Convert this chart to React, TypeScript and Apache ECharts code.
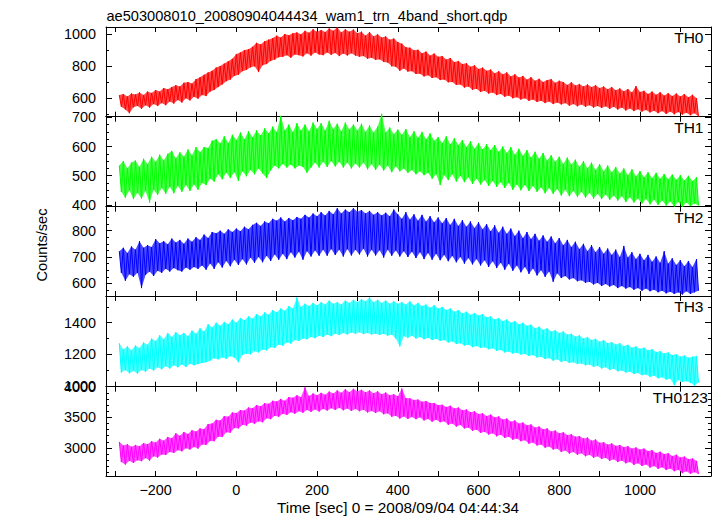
import React, { useEffect, useRef } from "react";
import * as echarts from "echarts";

const TITLE = "ae503008010_20080904044434_wam1_trn_4band_short.qdp";
const X_TITLE = "Time [sec] 0 = 2008/09/04 04:44:34";
const Y_TITLE = "Counts/sec";

// time grid of the binned light curves (seconds)
const T_START = -290;
const T_STEP = 10;

const X_MIN = -323;
const X_MAX = 1176;
const X_TICKS = [-300, -200, -100, 0, 100, 200, 300, 400, 500, 600, 700, 800, 900, 1000, 1100];
const X_LABELS = [-200, 0, 200, 400, 600, 800, 1000];

const PANEL_NAMES = ["TH0", "TH1", "TH2", "TH3", "TH0123"];
const COLORS = ["#ff0000", "#00ff00", "#0000ff", "#00ffff", "#ff00ff"];
const Y_RANGES = [[483, 1044], [394, 702], [552, 891], [995, 1569], [2543, 4000]];
const Y_MAJOR = [[600, 800, 1000], [400, 500, 600, 700], [600, 700, 800], [1000, 1200, 1400], [3000, 3500, 4000]];
const Y_MINOR = [
  [500, 700, 900],
  [425, 450, 475, 525, 550, 575, 625, 650, 675],
  [575, 625, 650, 675, 725, 750, 775, 825, 850, 875],
  [1100, 1300, 1500],
  [2600, 2700, 2800, 2900, 3100, 3200, 3300, 3400, 3600, 3700, 3800, 3900],
];

// upper / lower envelope of each 10 s bin
const th0Hi = [
  618, 625, 610, 628, 622, 635, 618, 640, 632, 650,
  640, 662, 655, 668, 680, 672, 695, 700, 690, 718,
  730, 745, 760, 770, 790, 800, 815, 830, 845, 875,
  885, 900, 905, 920, 945, 935, 955, 965, 975, 990,
  978, 1000, 992, 1005, 1010, 998, 1020, 1008, 1030, 1015,
  1025, 1012, 1035, 1020, 1042, 1010, 1030, 1015, 1028, 1005,
  1015, 990, 1012, 985, 998, 978, 985, 965, 972, 950,
  940, 918, 915, 898, 902, 880, 890, 865, 878, 858,
  862, 840, 850, 825, 832, 812, 818, 795, 805, 782,
  790, 770, 778, 755, 768, 748, 760, 735, 748, 728,
  738, 715, 730, 708, 720, 700, 712, 718, 695, 708,
  700, 682, 698, 678, 688, 672, 685, 668, 680, 662,
  672, 655, 668, 648, 660, 642, 656, 635, 675, 638,
  645, 625, 640, 620, 636, 615, 630, 612, 628, 610,
  625, 605, 620, 600,
];
const th0Lo = [
  545, 528, 505, 542, 550, 532, 555, 540, 562, 550,
  568, 555, 578, 565, 588, 572, 598, 585, 608, 596,
  618, 612, 640, 650, 668, 685, 705, 715, 738, 745,
  768, 775, 792, 798, 762, 805, 812, 832, 840, 855,
  858, 868, 852, 872, 868, 860, 880, 865, 885, 872,
  868, 885, 870, 882, 862, 878, 866, 880, 865, 858,
  862, 845, 852, 838, 842, 825, 822, 798, 795, 770,
  785, 765, 768, 750, 752, 735, 742, 725, 730, 712,
  715, 698, 700, 682, 685, 665, 672, 652, 658, 638,
  645, 628, 635, 618, 625, 608, 615, 598, 605, 590,
  598, 582, 590, 575, 582, 568, 578, 562, 572, 560,
  568, 552, 562, 548, 560, 545, 555, 540, 550, 538,
  548, 532, 545, 528, 540, 522, 535, 518, 530, 515,
  525, 510, 520, 505, 518, 500, 515, 498, 512, 496,
  508, 492, 505, 485,
];
const th1Hi = [
  535, 550, 525, 545, 552, 530, 558, 540, 565, 548,
  572, 552, 575, 585, 560, 580, 565, 590, 570, 598,
  580, 598, 595, 620, 625, 610, 635, 612, 640, 622,
  648, 625, 652, 632, 655, 638, 662, 645, 668, 650,
  705, 655, 675, 650, 680, 655, 675, 652, 682, 660,
  680, 655, 688, 660, 678, 652, 682, 658, 675, 655,
  678, 650, 672, 648, 668, 712, 648, 665, 642, 658,
  640, 660, 632, 652, 630, 650, 625, 645, 620, 632,
  612, 635, 608, 628, 605, 622, 598, 618, 592, 612,
  590, 608, 588, 605, 582, 600, 578, 598, 572, 592,
  568, 588, 562, 582, 558, 578, 552, 570, 548, 565,
  540, 562, 538, 555, 530, 550, 525, 545, 520, 540,
  515, 535, 512, 530, 508, 525, 502, 522, 498, 516,
  495, 512, 492, 510, 490, 506, 488, 504, 486, 502,
  484, 500, 482, 495,
];
const th1Lo = [
  445, 425, 450, 420, 442, 422, 448, 408, 452, 435,
  458, 438, 462, 440, 465, 445, 468, 448, 470, 452,
  475, 468, 490, 480, 505, 488, 510, 492, 512, 482,
  515, 498, 520, 505, 525, 508, 492, 518, 535, 525,
  540, 528, 538, 525, 535, 530, 510, 528, 545, 528,
  548, 530, 550, 532, 548, 528, 545, 525, 542, 528,
  545, 522, 540, 520, 538, 518, 535, 512, 532, 515,
  525, 510, 520, 505, 515, 502, 510, 490, 505, 468,
  502, 485, 505, 480, 500, 478, 495, 472, 490, 470,
  485, 465, 482, 462, 478, 458, 475, 452, 470, 450,
  468, 448, 465, 445, 460, 440, 458, 438, 455, 432,
  452, 430, 448, 428, 445, 425, 442, 422, 438, 420,
  436, 418, 432, 415, 430, 410, 426, 408, 422, 405,
  420, 402, 418, 400, 415, 398, 412, 395, 410, 394,
  408, 396, 405, 398,
];
const th2Hi = [
  722, 735, 715, 740, 728, 760, 735, 745, 738, 768,
  752, 760, 748, 770, 755, 765, 750, 770, 758, 775,
  765, 785, 772, 795, 790, 800, 788, 805, 795, 808,
  798, 815, 805, 822, 830, 818, 835, 828, 845, 838,
  850, 835, 848, 840, 852, 845, 860, 850, 865, 855,
  870, 858, 875, 862, 885, 865, 880, 870, 885, 872,
  878, 865, 875, 860, 870, 858, 868, 855, 880, 862,
  845, 870, 842, 862, 838, 860, 835, 855, 832, 850,
  828, 848, 822, 845, 818, 840, 815, 835, 810, 832,
  805, 825, 798, 820, 792, 815, 788, 808, 780, 800,
  772, 795, 768, 788, 762, 782, 758, 778, 752, 772,
  745, 765, 738, 758, 730, 750, 722, 745, 718, 738,
  712, 732, 708, 728, 700, 742, 698, 718, 692, 712,
  688, 708, 682, 702, 678, 722, 675, 695, 670, 688,
  665, 685, 662, 692,
];
const th2Lo = [
  640, 610, 635, 625, 640, 582, 632, 645, 628, 648,
  640, 655, 645, 658, 650, 645, 660, 652, 662, 655,
  668, 652, 675, 655, 680, 660, 685, 665, 690, 670,
  692, 672, 698, 678, 700, 680, 705, 685, 710, 690,
  712, 692, 718, 698, 720, 690, 722, 702, 725, 705,
  728, 705, 730, 708, 728, 702, 730, 706, 728, 710,
  732, 702, 728, 706, 726, 698, 728, 705, 725, 702,
  722, 700, 720, 696, 718, 692, 715, 690, 712, 688,
  708, 684, 704, 680, 700, 675, 696, 672, 692, 668,
  688, 662, 684, 658, 678, 652, 674, 648, 668, 642,
  662, 636, 656, 630, 650, 625, 645, 606, 638, 620,
  628, 615, 620, 608, 612, 602, 606, 596, 602, 590,
  598, 588, 594, 582, 590, 580, 586, 576, 582, 572,
  580, 570, 576, 566, 572, 562, 568, 560, 566, 558,
  570, 560, 566, 572,
];
const th3Hi = [
  1270, 1230, 1250, 1225, 1255, 1240, 1275, 1260, 1300, 1285,
  1320, 1295, 1335, 1310, 1340, 1320, 1335, 1315, 1350, 1330,
  1365, 1345, 1390, 1370, 1400, 1380, 1405, 1390, 1420, 1400,
  1430, 1415, 1440, 1425, 1455, 1440, 1465, 1450, 1480, 1465,
  1490, 1475, 1505, 1490, 1560, 1500, 1520, 1505, 1525, 1510,
  1530, 1515, 1540, 1520, 1530, 1515, 1540, 1525, 1545, 1530,
  1550, 1535, 1560, 1530, 1545, 1525, 1540, 1520, 1535, 1520,
  1530, 1515, 1535, 1510, 1525, 1505, 1515, 1495, 1510, 1490,
  1500, 1480, 1490, 1470, 1480, 1460, 1470, 1450, 1462, 1445,
  1455, 1435, 1440, 1420, 1430, 1410, 1420, 1400, 1410, 1390,
  1400, 1380, 1388, 1365, 1375, 1355, 1365, 1345, 1352, 1335,
  1345, 1325, 1330, 1312, 1320, 1300, 1310, 1290, 1298, 1280,
  1290, 1270, 1278, 1262, 1270, 1252, 1260, 1242, 1250, 1235,
  1242, 1225, 1232, 1215, 1220, 1205, 1212, 1195, 1200, 1185,
  1192, 1178, 1185, 1190,
];
const th3Lo = [
  1085, 1100, 1080, 1095, 1078, 1100, 1090, 1110, 1098, 1118,
  1105, 1125, 1110, 1130, 1118, 1135, 1120, 1140, 1130, 1138,
  1145, 1150, 1160, 1175, 1168, 1180, 1172, 1188, 1180, 1150,
  1195, 1205, 1200, 1220, 1212, 1230, 1225, 1245, 1240, 1262,
  1255, 1275, 1268, 1290, 1285, 1300, 1295, 1310, 1302, 1318,
  1310, 1325, 1315, 1330, 1322, 1335, 1325, 1338, 1330, 1340,
  1328, 1335, 1325, 1330, 1322, 1330, 1318, 1325, 1300, 1250,
  1315, 1305, 1318, 1300, 1310, 1295, 1305, 1290, 1298, 1285,
  1290, 1275, 1282, 1265, 1270, 1255, 1262, 1245, 1252, 1240,
  1245, 1232, 1238, 1222, 1228, 1212, 1218, 1205, 1210, 1198,
  1202, 1190, 1195, 1180, 1185, 1170, 1176, 1160, 1168, 1152,
  1160, 1145, 1150, 1138, 1142, 1130, 1135, 1120, 1128, 1110,
  1118, 1100, 1108, 1092, 1098, 1085, 1090, 1075, 1082, 1068,
  1072, 1058, 1065, 1048, 1055, 1040, 1046, 1005, 1038, 1025,
  1030, 1020, 1002, 1022,
];
const th0123Hi = [
  3100, 3040, 3060, 3020, 3050, 3030, 3080, 3060, 3110, 3090,
  3150, 3120, 3180, 3160, 3240, 3200, 3260, 3230, 3290, 3270,
  3320, 3310, 3390, 3400, 3460, 3450, 3520, 3510, 3580, 3570,
  3620, 3610, 3660, 3650, 3700, 3680, 3730, 3720, 3770, 3760,
  3800, 3770, 3830, 3820, 3860, 3830, 3990, 3850, 3890, 3860,
  3900, 3870, 3920, 3890, 3940, 3900, 3960, 3910, 3965, 3925,
  3950, 3910, 3940, 3895, 3925, 3875, 3905, 3860, 3875, 3845,
  3970, 3815, 3810, 3785, 3790, 3755, 3765, 3735, 3735, 3700,
  3705, 3670, 3690, 3645, 3660, 3615, 3630, 3585, 3600, 3555,
  3565, 3520, 3545, 3500, 3515, 3465, 3480, 3430, 3450, 3400,
  3415, 3370, 3385, 3335, 3350, 3305, 3320, 3270, 3285, 3240,
  3255, 3210, 3225, 3185, 3195, 3155, 3170, 3120, 3140, 3085,
  3095, 3055, 3075, 3035, 3050, 3015, 3030, 2990, 3010, 2975,
  2990, 2950, 2965, 2920, 2940, 2900, 2915, 2870, 2890, 2845,
  2860, 2820, 2830, 2790,
];
const th0123Lo = [
  2770, 2730, 2790, 2755, 2800, 2785, 2835, 2795, 2865, 2845,
  2895, 2885, 2935, 2920, 2965, 2945, 2995, 2975, 3015, 2990,
  3055, 3050, 3115, 3110, 3185, 3180, 3255, 3250, 3325, 3320,
  3375, 3365, 3415, 3395, 3435, 3420, 3485, 3470, 3525, 3510,
  3560, 3540, 3585, 3560, 3600, 3575, 3620, 3590, 3630, 3595,
  3635, 3610, 3650, 3620, 3655, 3615, 3645, 3605, 3635, 3600,
  3625, 3580, 3605, 3570, 3600, 3550, 3565, 3510, 3525, 3480,
  3515, 3475, 3505, 3470, 3500, 3450, 3475, 3430, 3460, 3420,
  3435, 3380, 3400, 3350, 3375, 3320, 3335, 3280, 3300, 3245,
  3265, 3220, 3240, 3190, 3215, 3165, 3185, 3135, 3155, 3110,
  3125, 3070, 3090, 3040, 3055, 3005, 3025, 2975, 2990, 2935,
  2960, 2910, 2935, 2890, 2915, 2865, 2890, 2840, 2865, 2820,
  2840, 2790, 2815, 2770, 2795, 2750, 2770, 2725, 2750, 2705,
  2730, 2680, 2705, 2660, 2685, 2640, 2665, 2620, 2645, 2590,
  2620, 2580, 2605, 2575,
];

const HI = [th0Hi, th1Hi, th2Hi, th3Hi, th0123Hi];
const LO = [th0Lo, th1Lo, th2Lo, th3Lo, th0123Lo];

const PANEL_EDGES = [27, 116.7, 206.7, 296, 386.7, 476];
const GRID_LEFT = 106;
const GRID_WIDTH = 605;
const FONT = '"Liberation Sans", Arial, Helvetica, sans-serif';

function buildOption() {
  const grid: any[] = [];
  const xAxis: any[] = [];
  const yAxis: any[] = [];
  const series: any[] = [];
  const graphic: any[] = [];

  for (let i = 0; i < 5; i++) {
    grid.push({
      left: GRID_LEFT,
      width: GRID_WIDTH,
      top: PANEL_EDGES[i],
      height: PANEL_EDGES[i + 1] - PANEL_EDGES[i],
      containLabel: false,
    });
    for (const pos of ["bottom", "top"]) {
      xAxis.push({
        type: "value",
        gridIndex: i,
        position: pos,
        min: X_MIN,
        max: X_MAX,
        axisLine: { show: true, onZero: false, lineStyle: { color: "#000", width: 1 } },
        axisTick: { show: true, inside: true, length: 5, customValues: X_TICKS, lineStyle: { color: "#000" } },
        axisLabel: {
          show: pos === "bottom" && i === 4,
          customValues: X_LABELS,
          formatter: (v: number) => String(v).replace("-", "\u2212"),
          color: "#000",
          fontSize: 14.4,
          fontFamily: FONT,
          margin: 7,
        },
        splitLine: { show: false },
      });
    }
    const [mn, mx] = Y_RANGES[i];
    for (const pos of ["left", "right"]) {
      yAxis.push({
        type: "value",
        gridIndex: i,
        position: pos,
        min: mn,
        max: mx,
        axisLine: { show: true, onZero: false, lineStyle: { color: "#000", width: 1 } },
        axisTick: { show: true, inside: true, length: 6, customValues: Y_MAJOR[i], lineStyle: { color: "#000" } },
        axisLabel: {
          show: pos === "left",
          customValues: Y_MAJOR[i],
          formatter: (v: number) => String(v),
          color: "#000",
          fontSize: 14.4,
          fontFamily: FONT,
          margin: 10,
        },
        splitLine: { show: false },
      });
      yAxis.push({
        type: "value",
        gridIndex: i,
        position: pos,
        min: mn,
        max: mx,
        axisLine: { show: false, onZero: false },
        axisTick: { show: true, inside: true, length: 3, customValues: Y_MINOR[i], lineStyle: { color: "#000" } },
        axisLabel: { show: false },
        splitLine: { show: false },
      });
    }
    const hi = HI[i];
    const lo = LO[i];
    const zig: number[][] = [];
    const band: number[][] = [];
    for (let k = 0; k < hi.length; k++) {
      const t = T_START + k * T_STEP;
      zig.push([t, hi[k]]);
      zig.push([t + T_STEP / 2, lo[k]]);
      band.push([t, lo[k], hi[k]]);
    }
    const color = COLORS[i];
    series.push({
      type: "custom",
      xAxisIndex: i * 2,
      yAxisIndex: i * 4,
      silent: true,
      clip: false,
      data: [[band[0][0], band[0][1]]],
      encode: { x: 0, y: 1 },
      renderItem: (params: any, api: any) => {
        const pts: number[][] = [];
        for (let k = 0; k < band.length; k++) pts.push(api.coord([band[k][0], band[k][2]]));
        for (let k = band.length - 1; k >= 0; k--) pts.push(api.coord([band[k][0] + T_STEP / 2, band[k][1]]));
        return {
          type: "polygon",
          shape: { points: pts },
          style: { fill: color, opacity: 0.7 },
        };
      },
    });
    series.push({
      type: "line",
      xAxisIndex: i * 2,
      yAxisIndex: i * 4,
      symbol: "none",
      showSymbol: false,
      clip: false,
      silent: true,
      data: zig,
      lineStyle: { color, width: 1 },
      itemStyle: { color },
    });
    graphic.push({
      type: "text",
      x: i === 4 ? 708 : 703.5,
      y: PANEL_EDGES[i] + 10.8,
      style: {
        text: PANEL_NAMES[i],
        fill: "#000",
        font: `15.5px ${FONT}`,
        align: "right",
        verticalAlign: "middle",
      },
    });
  }

  graphic.push({
    type: "text",
    x: 106.5,
    y: 15.5,
    style: { text: TITLE, fill: "#000", font: `14.6px ${FONT}`, align: "left", verticalAlign: "middle" },
  });
  graphic.push({
    type: "text",
    x: 398,
    y: 507,
    style: { text: X_TITLE, fill: "#000", font: `15.4px ${FONT}`, align: "center", verticalAlign: "middle" },
  });
  graphic.push({
    type: "text",
    x: 42,
    y: 245,
    rotation: Math.PI / 2,
    style: { text: Y_TITLE, fill: "#000", font: `14.6px ${FONT}`, align: "center", verticalAlign: "middle" },
  });

  return {
    animation: false,
    backgroundColor: "#fff",
    grid,
    xAxis,
    yAxis,
    series,
    graphic,
  };
}

export default function App() {
  const ref = useRef<HTMLDivElement>(null);
  useEffect(() => {
    if (!ref.current) return;
    const chart = echarts.init(ref.current, undefined, { renderer: "svg" });
    chart.setOption(buildOption() as any);
    return () => chart.dispose();
  }, []);
  return (
    <div
      ref={ref}
      style={{ position: "absolute", left: 0, top: 0, width: 717, height: 516 }}
    />
  );
}
